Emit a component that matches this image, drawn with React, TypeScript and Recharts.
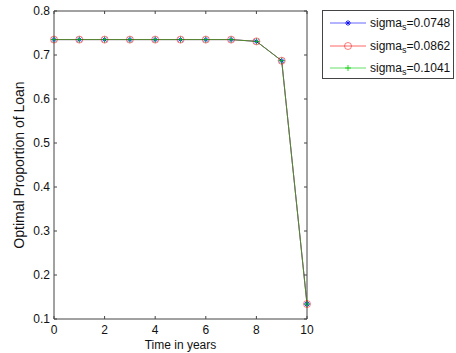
import { Line, LineChart, ReferenceLine, XAxis, YAxis } from "recharts";

const years = [0, 1, 2, 3, 4, 5, 6, 7, 8, 9, 10];
const sigma0748 = [0.735, 0.735, 0.735, 0.735, 0.735, 0.735, 0.735, 0.735, 0.731, 0.687, 0.134];
const sigma0862 = [0.735, 0.735, 0.735, 0.735, 0.735, 0.735, 0.735, 0.735, 0.731, 0.687, 0.134];
const sigma1041 = [0.735, 0.735, 0.735, 0.735, 0.735, 0.735, 0.735, 0.735, 0.731, 0.687, 0.134];
const xTicks = [0, 2, 4, 6, 8, 10];
const yTicks = [0.1, 0.2, 0.3, 0.4, 0.5, 0.6, 0.7, 0.8];

const series = [
  { key: "s1", label: "0.0748", color: "#0000ff", marker: "star" },
  { key: "s2", label: "0.0862", color: "#ff0000", marker: "circle" },
  { key: "s3", label: "0.1041", color: "#00cc00", marker: "plus" },
];

const data = years.map((t, i) => ({
  t,
  s1: sigma0748[i],
  s2: sigma0862[i],
  s3: sigma1041[i],
}));

// layout
const W = 456;
const H = 353;
const TOP = 11;
const LEFT = 54;
const RIGHT_GAP = 149;
const X_AXIS_H = 34;
const PLOT_BOTTOM = H - X_AXIS_H;
const PLOT_RIGHT = W - RIGHT_GAP;
const TICK = 3;

const AXIS = "#444";
const TEXT = "#111";
const FONT = "Arial";

const Marker = ({ cx, cy, kind, color }: any) => {
  if (cx == null || cy == null) return null;
  if (kind === "circle")
    return <circle cx={cx} cy={cy} r={3.5} fill="none" stroke={color} strokeOpacity={0.5} />;
  if (kind === "plus")
    return (
      <g stroke={color} strokeWidth={1} strokeOpacity={0.8}>
        <line x1={cx - 3} y1={cy} x2={cx + 3} y2={cy} />
        <line x1={cx} y1={cy - 3} x2={cx} y2={cy + 3} />
      </g>
    );
  return (
    <g stroke={color} strokeWidth={1} strokeOpacity={0.8}>
      <line x1={cx - 3} y1={cy} x2={cx + 3} y2={cy} />
      <line x1={cx} y1={cy - 3} x2={cx} y2={cy + 3} />
      <line x1={cx - 2} y1={cy - 2} x2={cx + 2} y2={cy + 2} />
      <line x1={cx - 2} y1={cy + 2} x2={cx + 2} y2={cy - 2} />
    </g>
  );
};

// x tick: label below, small inward marks on bottom and top edges
const XTick = ({ x, payload }: any) => (
  <g>
    <line x1={x} y1={PLOT_BOTTOM} x2={x} y2={PLOT_BOTTOM - TICK} stroke={AXIS} />
    <line x1={x} y1={TOP} x2={x} y2={TOP + TICK} stroke={AXIS} />
    <text x={x} y={PLOT_BOTTOM + 14.5} textAnchor="middle" fontSize={12} fontFamily={FONT} fill={TEXT}>
      {payload.value}
    </text>
  </g>
);

const YTick = ({ y, payload }: any) => (
  <g>
    <line x1={LEFT} y1={y} x2={LEFT + TICK} y2={y} stroke={AXIS} />
    <line x1={PLOT_RIGHT} y1={y} x2={PLOT_RIGHT - TICK} y2={y} stroke={AXIS} />
    <text x={LEFT - 4} y={y + 4} textAnchor="end" fontSize={12} fontFamily={FONT} fill={TEXT}>
      {Number(payload.value).toFixed(1)}
    </text>
  </g>
);

const YLabel = ({ viewBox }: any) => {
  const x = 24;
  const y = viewBox.y + viewBox.height / 2;
  return (
    <text
      x={x}
      y={y}
      transform={`rotate(-90 ${x} ${y})`}
      textAnchor="middle"
      fontSize={14}
      fontFamily={FONT}
      fill={TEXT}
    >
      Optimal Proportion of Loan
    </text>
  );
};

const XLabel = () => (
  <text
    x={(LEFT + PLOT_RIGHT) / 2}
    y={PLOT_BOTTOM + 29.5}
    textAnchor="middle"
    fontSize={12}
    fontFamily={FONT}
    fill={TEXT}
  >
    Time in years
  </text>
);

const LegendBox = () => (
  <div
    style={{
      position: "absolute",
      left: 322,
      top: 10,
      width: 132,
      height: 69,
      border: "1px solid #444",
      background: "#fff",
      boxSizing: "border-box",
    }}
  >
    {series.map((s, i) => (
      <div
        key={s.key}
        style={{
          position: "absolute",
          left: 0,
          top: 4 + i * 22.5,
          height: 16,
          display: "flex",
          alignItems: "center",
          fontFamily: FONT,
          fontSize: 12,
          color: TEXT,
        }}
      >
        <svg width={46} height={16}>
          <line x1={7} y1={8} x2={43} y2={8} stroke={s.color} strokeOpacity={0.6} />
          <Marker cx={25} cy={8} kind={s.marker} color={s.color} />
        </svg>
        <span style={{ marginLeft: 1, whiteSpace: "nowrap" }}>
          sigma<sub style={{ fontSize: 9, verticalAlign: -3, lineHeight: 0 }}>s</sub>={s.label}
        </span>
      </div>
    ))}
  </div>
);

const App = () => {
  return (
    <div style={{ position: "absolute", left: 0, top: 0, width: W, height: H, background: "#fff" }}>
      <LineChart
        width={W}
        height={H}
        data={data}
        margin={{ top: TOP, right: RIGHT_GAP, bottom: 0, left: 0 }}
      >
        <XAxis
          dataKey="t"
          type="number"
          domain={[0, 10]}
          ticks={xTicks}
          height={X_AXIS_H}
          stroke={AXIS}
          tickLine={false}
          tick={<XTick />}
          label={<XLabel />}
        />
        <YAxis
          type="number"
          domain={[0.1, 0.8]}
          ticks={yTicks}
          width={LEFT}
          stroke={AXIS}
          tickLine={false}
          tick={<YTick />}
          label={<YLabel />}
        />
        <ReferenceLine x={10} stroke={AXIS} ifOverflow="visible" />
        <ReferenceLine y={0.8} stroke={AXIS} ifOverflow="visible" />
        {series.map((s) => (
          <Line
            key={s.key}
            type="linear"
            dataKey={s.key}
            stroke={s.color}
            strokeOpacity={0.6}
            strokeWidth={1}
            isAnimationActive={false}
            dot={(p: any) => (
              <Marker key={`${s.key}-${p.index}`} cx={p.cx} cy={p.cy} kind={s.marker} color={s.color} />
            )}
            activeDot={false}
          />
        ))}
      </LineChart>
      <LegendBox />
    </div>
  );
};

export default App;
